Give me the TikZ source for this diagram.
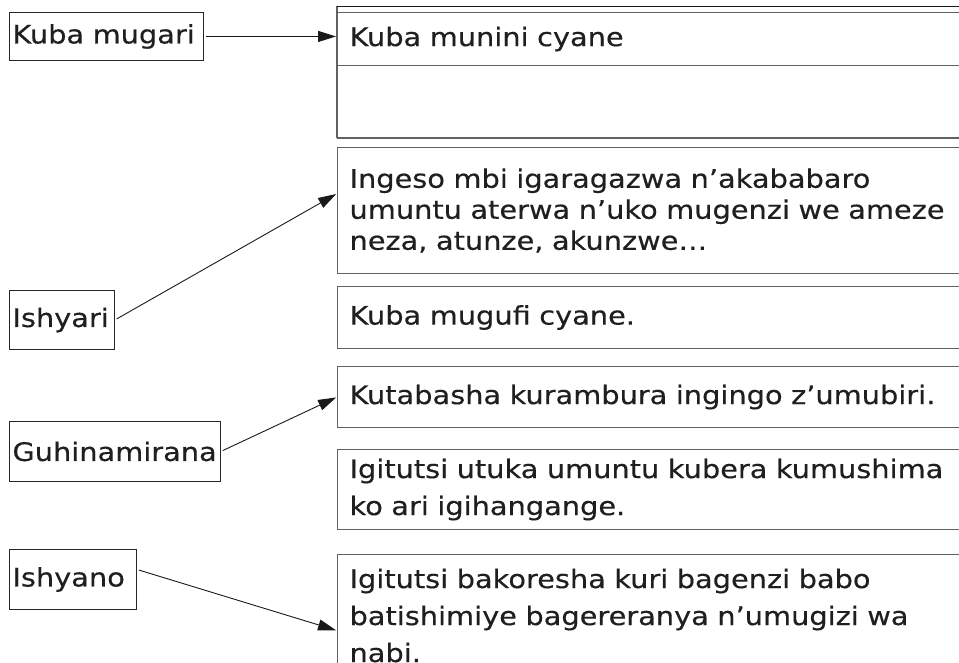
\documentclass[tikz,border=0pt]{standalone}
\usepackage{fontspec}
\setmainfont[FakeStretch=1.13,FakeBold=0.35]{DejaVu Sans}
\usetikzlibrary{arrows.meta,calc}
\begin{document}
\begin{tikzpicture}[x=1pt,y=-1pt,
  txt/.style={font=\fontsize{25.5}{31}\selectfont, text=black!88},
  lbox/.style={txt, draw=black!85, line width=0.9pt, anchor=north west, inner xsep=3pt, inner ysep=0pt, align=left},
  rbox/.style={txt, draw=black!62, line width=1.1pt, anchor=north west, inner xsep=12pt, inner ysep=0pt, align=left, text width=620pt},
  wide/.style={font=\fontsize{25.5}{37}\selectfont},
  rule/.style={draw=black!62, line width=1.1pt},
  conn/.style={draw=black!90, line width=0.9pt, -{Triangle[length=18pt,width=11pt]}, shorten <=2pt, shorten >=1pt}]
\useasboundingbox (0,0) rectangle (959,663);
\clip (0,0) rectangle (959,663);
% left boxes
\node[lbox, text width=188pt, minimum height=48pt] (kmugari) at (9,12) {Kuba mugari};
\node[lbox, text width=99pt, minimum height=59pt] (ishyari) at (9,290) {Ishyari};
\node[lbox, text width=205pt, minimum height=60pt] (guhina) at (9,421) {Guhinamirana};
\node[lbox, text width=121pt, minimum height=60pt] (ishyano) at (9,549) {Ishyano};
% right boxes
\coordinate (tl) at (337,6);
\coordinate (tr) at (990,6);
\coordinate (bl) at (337,138);
\coordinate (br) at (990,138);
\draw[rule] (bl) -- (tl);
\draw[draw=black!90, line width=0.9pt] (tl) -- (tr);
\draw[rule] (bl) -- (br);
\node[rbox, minimum height=53pt] (b1) at (337,12) {Kuba munini cyane};
\node[rbox, minimum height=126pt] (b2) at (337,147) {Ingeso mbi igaragazwa n’akababaro\\umuntu aterwa n’uko mugenzi we ameze\\neza, atunze, akunzwe…};
\node[rbox, minimum height=62pt] (b3) at (337,286) {Kuba mugufi cyane.};
\node[rbox, minimum height=61pt] (b4) at (337,366) {Kutabasha kurambura ingingo z’umubiri.};
\node[rbox, wide, minimum height=80pt] (b5) at (337,449) {Igitutsi utuka umuntu kubera kumushima\\ko ari igihangange.};
\node[rbox, wide, minimum height=122pt] (b6) at (337,554) {Igitutsi bakoresha kuri bagenzi babo\\batishimiye bagereranya n’umugizi wa\\nabi.};
% connectors
\draw[conn] (kmugari.east) -- (kmugari.east -| b1.west);
\draw[conn] (ishyari.east) -- ([yshift=17pt]b2.west);
\draw[conn] (guhina.east) -- (b4.west);
\draw[conn] ([yshift=10pt]ishyano.east) -- ([yshift=-15pt]b6.west);
\end{tikzpicture}
\end{document}
